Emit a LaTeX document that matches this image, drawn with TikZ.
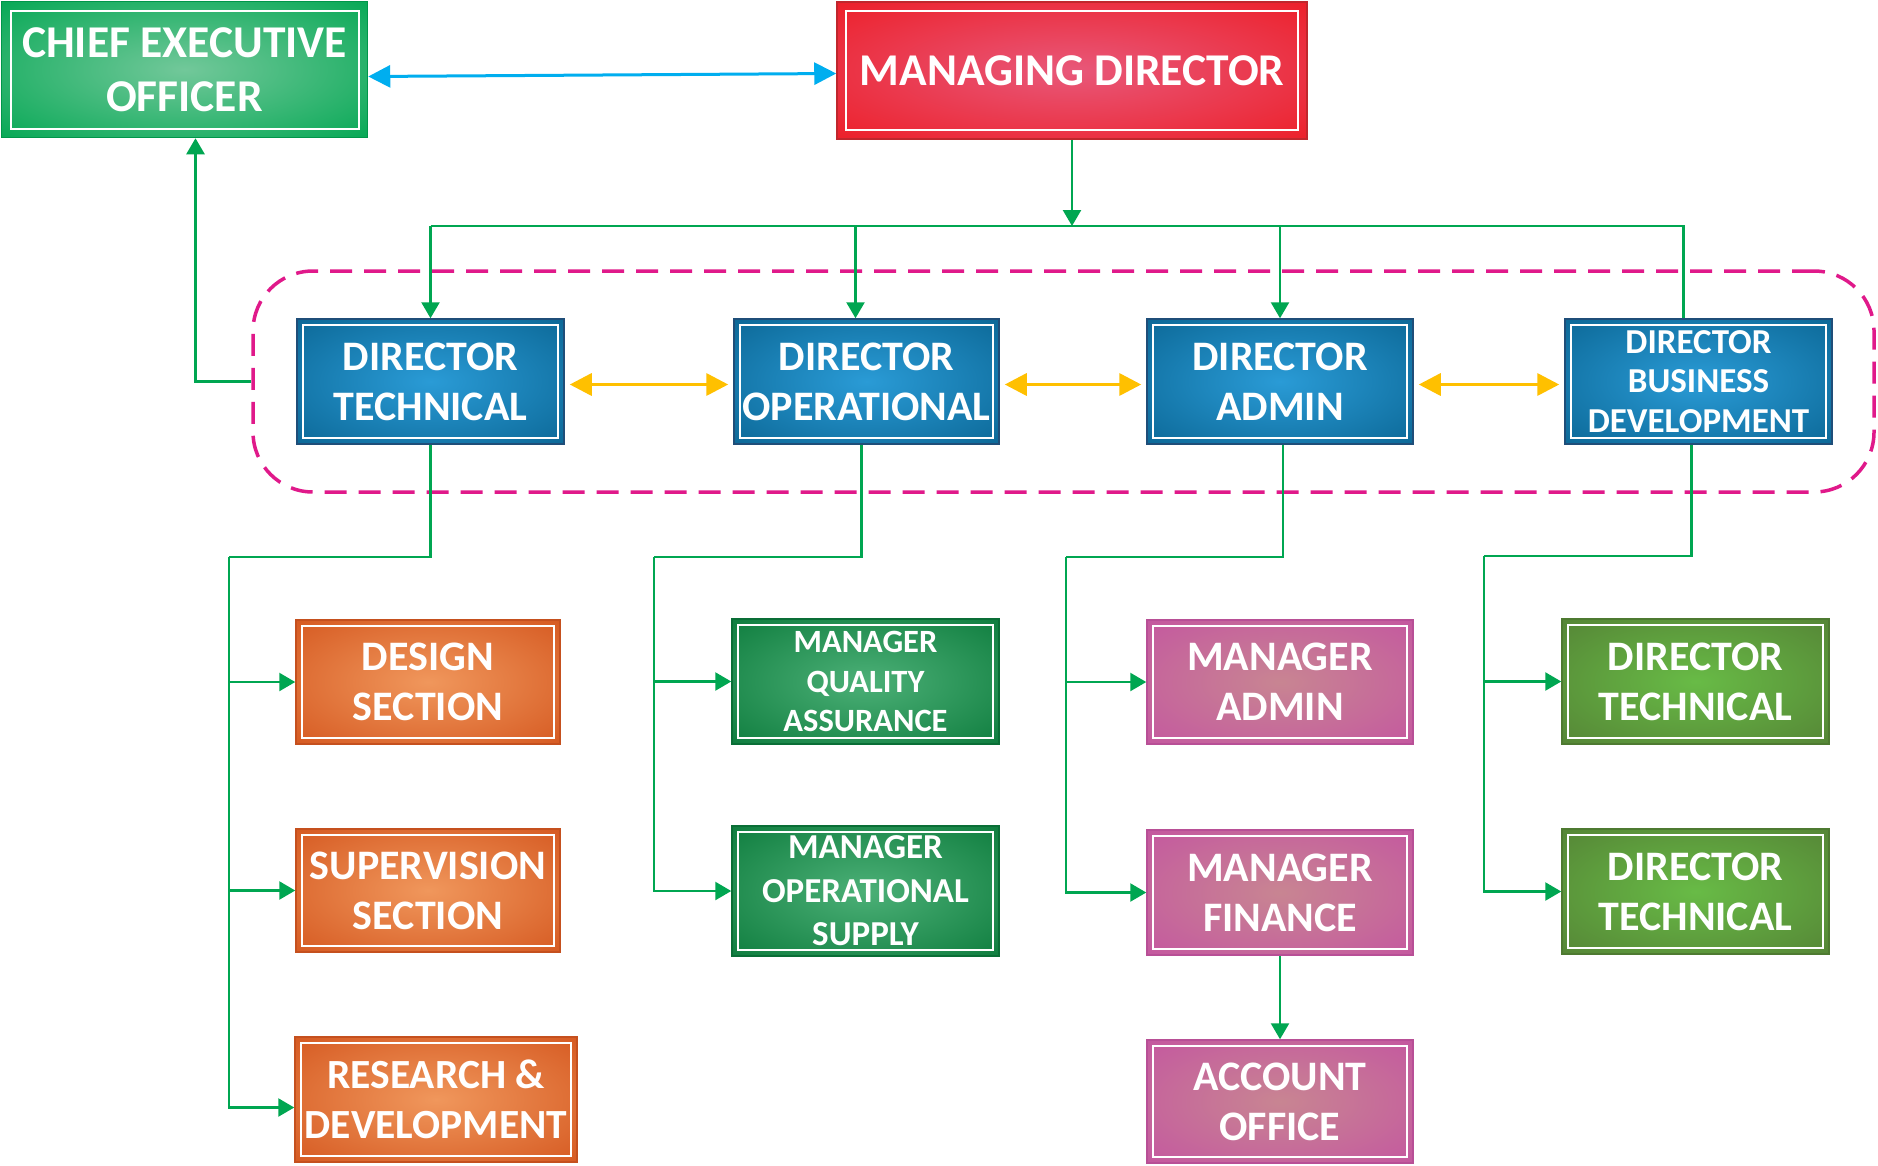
\documentclass[tikz,border=0pt]{standalone}
\usepackage{fontspec}
\setmainfont{Carlito}
\usetikzlibrary{arrows.meta,calc}

\definecolor{linkgreen}{HTML}{00A651}
\definecolor{linkblue}{HTML}{00AEEF}
\definecolor{linkyellow}{HTML}{FFC000}
\definecolor{grouppink}{HTML}{E0198A}

\definecolor{ceoin}{HTML}{72C89A}   \definecolor{ceoout}{HTML}{00A651}  \definecolor{ceoedge}{HTML}{00964A}
\definecolor{mdin}{HTML}{E8587A}    \definecolor{mdout}{HTML}{ED1C24}   \definecolor{mdedge}{HTML}{C0272D}
\definecolor{dirin}{HTML}{2A9BD6}   \definecolor{dirout}{HTML}{0A6593}  \definecolor{diredge}{HTML}{1F4E79}
\definecolor{orin}{HTML}{F0975C}    \definecolor{orout}{HTML}{D4561E}   \definecolor{oredge}{HTML}{C5501E}
\definecolor{dgin}{HTML}{4CB077}    \definecolor{dgout}{HTML}{0B7A3B}   \definecolor{dgedge}{HTML}{0A6E36}
\definecolor{mgin}{HTML}{C88592}    \definecolor{mgout}{HTML}{C455A0}   \definecolor{mgedge}{HTML}{B84F96}
\definecolor{olin}{HTML}{68BB46}    \definecolor{olout}{HTML}{548235}   \definecolor{oledge}{HTML}{4E7A31}

% soft radial glow: light centre fading to the box colour towards the edges
\makeatletter
\pgfdeclareradialshading[tikz@radial@inner,tikz@radial@outer]{glow}{\pgfpoint{0bp}{0bp}}{%
  color(0bp)=(tikz@radial@inner); color(38bp)=(tikz@radial@outer); color(50bp)=(tikz@radial@outer)}
\makeatother

\tikzset{
  boxinset/.store in=\boxinset, boxinset=6pt,
  orgbox/.style n args={3}{rectangle, inner color=#1, outer color=#2, shading=glow,
    draw=#3, line width=1.5pt, text=white, align=center, inner sep=0pt,
    path picture={\draw[white,line width=2pt]
      ([shift={(\boxinset,-\boxinset)}]path picture bounding box.north west) rectangle
      ([shift={(-\boxinset,\boxinset)}]path picture bounding box.south east);}},
  sz/.style 2 args={minimum width=#1pt, minimum height=#2pt},
  fs/.style 2 args={font=\fontsize{#1}{#2}\selectfont\bfseries},
  ceobox/.style={orgbox={ceoin}{ceoout}{ceoedge}, boxinset=9pt},
  mdbox/.style={orgbox={mdin}{mdout}{mdedge}, boxinset=9pt},
  dirbox/.style={orgbox={dirin}{dirout}{diredge}},
  orangebox/.style={orgbox={orin}{orout}{oredge}},
  dgreenbox/.style={orgbox={dgin}{dgout}{dgedge}},
  magentabox/.style={orgbox={mgin}{mgout}{mgedge}},
  olivebox/.style={orgbox={olin}{olout}{oledge}},
  gline/.style={draw=linkgreen, line width=2.5pt},
  garr/.style={gline, -{Triangle[length=16pt,width=18pt]}},
  barr/.style={draw=linkblue, line width=3pt, {Triangle[length=22pt,width=22pt]}-{Triangle[length=22pt,width=22pt]}},
  yarr/.style={draw=linkyellow, line width=3.5pt, {Triangle[length=22pt,width=22pt]}-{Triangle[length=22pt,width=22pt]}},
  groupbox/.style={draw=grouppink, line width=3.5pt, dash pattern=on 22pt off 12pt,
    rounded corners=60pt, inner sep=0pt},
}

\begin{document}
\begin{tikzpicture}[x=1pt,y=-1pt]
\fill[white] (0,0) rectangle (1878,1165);
\useasboundingbox (0,0) rectangle (1878,1165);

% dashed frame around the directors' row
\node[groupbox, sz={1621}{221}] (grp) at (1063.5,381.5) {};

% top level
\node[ceobox, sz={366}{136}, fs={45.5}{54}] (ceo) at (184.5,69.5) {CHIEF EXECUTIVE\\OFFICER};
\node[mdbox, sz={470}{137}, fs={45.5}{54}] (md) at (1072,70.5) {MANAGING DIRECTOR};

% directors
\node[dirbox, sz={267}{125}, fs={42}{50}] (dt)  at (430.5,381.5)  {DIRECTOR\\TECHNICAL};
\node[dirbox, sz={265}{125}, fs={42}{50}] (dop) at (866.5,381.5)  {DIRECTOR\\OPERATIONAL};
\node[dirbox, sz={266}{125}, fs={42}{50}] (dad) at (1280,381.5)   {DIRECTOR\\ADMIN};
\node[dirbox, sz={267}{125}, fs={35}{39.5}] (dbd) at (1698.5,381.5) {DIRECTOR\\BUSINESS\\DEVELOPMENT};

% technical branch
\node[orangebox, sz={264}{124}, fs={42}{50}] (ds) at (428,682)    {DESIGN\\SECTION};
\node[orangebox, sz={264}{123}, fs={42}{50}] (sv) at (428,890.5)  {SUPERVISION\\SECTION};
\node[orangebox, sz={282}{125}, fs={41.5}{50}] (rd) at (436,1099.5) {RESEARCH \&\\DEVELOPMENT};

% operational branch
\node[dgreenbox, sz={267}{125}, fs={32.5}{39.5}] (mqa) at (865.5,681.5) {MANAGER\\QUALITY\\ASSURANCE};
\node[dgreenbox, sz={267}{130}, fs={35}{43.5}] (mos) at (865.5,891)   {MANAGER\\OPERATIONAL\\SUPPLY};

% admin branch
\node[magentabox, sz={266}{124}, fs={42}{50}] (ma) at (1280,682)   {MANAGER\\ADMIN};
\node[magentabox, sz={266}{125}, fs={42}{50}] (mf) at (1280,892.5) {MANAGER\\FINANCE};
\node[magentabox, sz={266}{123}, fs={42}{50}] (ao) at (1280,1101.5) {ACCOUNT\\OFFICE};

% business development branch
\node[olivebox, sz={267}{125}, fs={42}{50}] (dtg1) at (1695.5,681.5) {DIRECTOR\\TECHNICAL};
\node[olivebox, sz={267}{125}, fs={42}{50}] (dtg2) at (1695.5,891.5) {DIRECTOR\\TECHNICAL};

% CEO <-> MD
\draw[barr] ([yshift=-7pt]ceo.east) -- ([yshift=-3pt]md.west);

% MD down to the directors' bus
\coordinate (bus) at (0,226);
\draw[garr] (md.south) -- (md.south |- bus);
\draw[gline] (dt.north |- bus) -- ([xshift=-15pt]dbd.north |- bus) -- ([xshift=-15pt]dbd.north);
\draw[garr] (dt.north |- bus) -- (dt.north);
\draw[garr] ([xshift=-11pt]dop.north |- bus) -- ([xshift=-11pt]dop.north);
\draw[garr] (dad.north |- bus) -- (dad.north);

% links between directors
\draw[yarr, shorten <=5pt, shorten >=5pt] ([yshift=-3pt]dt.east)  -- ([yshift=-3pt]dop.west);
\draw[yarr, shorten <=5pt, shorten >=5pt] ([yshift=-3pt]dop.east) -- ([yshift=-3pt]dad.west);
\draw[yarr, shorten <=5pt, shorten >=5pt] ([yshift=-3pt]dad.east) -- ([yshift=-3pt]dbd.west);

% directors' group reports to the CEO
\draw[garr] (grp.west) -| ([xshift=11pt]ceo.south);

% trunks below each director
\coordinate (tA) at (229,557);
\coordinate (tB) at (654,557);
\coordinate (tC) at (1066,557);
\coordinate (tD) at (1484,556);

\draw[gline] (dt.south) |- (tA);
\draw[garr] (tA) |- ([yshift=-8pt]rd.west);
\draw[garr] (tA |- ds.west) -- (ds.west);
\draw[garr] (tA |- sv.west) -- (sv.west);

\draw[gline] ([xshift=-5pt]dop.south) |- (tB);
\draw[garr] (tB) |- (mos.west);
\draw[garr] (tB |- mqa.west) -- (mqa.west);

\draw[gline] ([xshift=3pt]dad.south) |- (tC);
\draw[garr] (tC) |- (mf.west);
\draw[garr] (tC |- ma.west) -- (ma.west);
\draw[garr] (mf.south) -- (ao.north);

\draw[gline] ([xshift=-7pt]dbd.south) |- (tD);
\draw[garr] (tD) |- (dtg2.west);
\draw[garr] (tD |- dtg1.west) -- (dtg1.west);
\end{tikzpicture}
\end{document}
